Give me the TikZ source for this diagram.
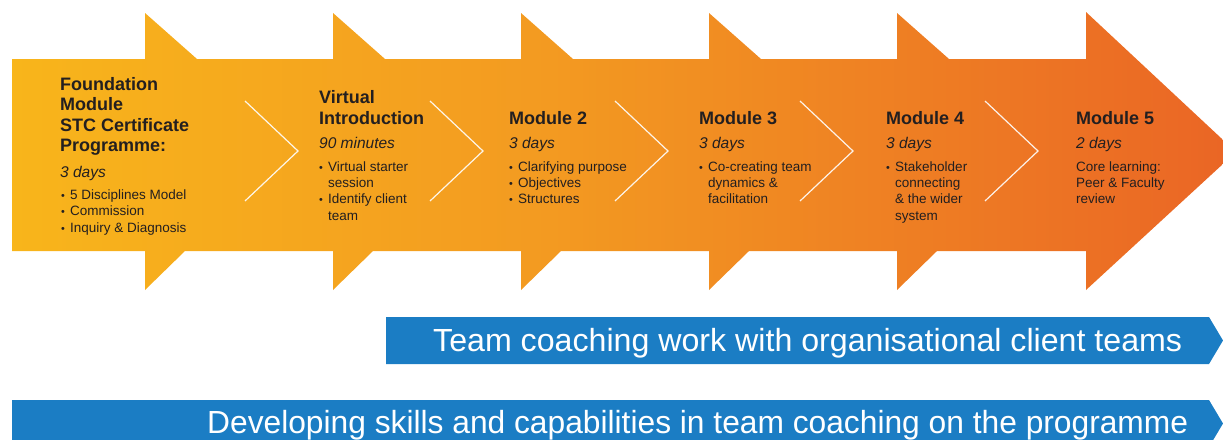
\documentclass[tikz,border=0pt]{standalone}
\usepackage{fontspec}
\setmainfont{Liberation Sans}
\usepackage{graphicx}
\definecolor{ink}{RGB}{35,31,32}
\definecolor{og1}{HTML}{F8B51B}
\definecolor{og2}{HTML}{F39A21}
\definecolor{og3}{HTML}{EA6525}
\definecolor{barblue}{RGB}{27,125,196}
\pgfdeclarehorizontalshading{bandshade}{100bp}{color(0bp)=(og1); color(25bp)=(og1); color(47bp)=(og2); color(75bp)=(og3); color(100bp)=(og3)}
\newcommand\bul{\makebox[9pt][l]{\scalebox{0.8}{\textbullet}}}
\newcommand\ind{\hspace*{9pt}}
\tikzset{
  txt/.style={inner sep=0pt, anchor=base west, text=ink},
  head/.style={txt, font=\fontsize{18}{18}\selectfont\bfseries},
  dur/.style={txt, font=\fontsize{15.5}{15.5}\selectfont\itshape},
  item/.style={txt, font=\fontsize{13.5}{13.5}\selectfont},
  chev/.style={draw=white, line width=1.2pt, opacity=.9, line join=miter},
  bartxt/.style={inner sep=0pt, anchor=base west, text=white, font=\fontsize{32}{32}\selectfont},
  bar/.style={fill=barblue}
}
\begin{document}
\begin{tikzpicture}[x=1pt,y=-1pt]
\useasboundingbox (0,0) rectangle (1223,439);
\clip (0,0) rectangle (1223,439);
% orange band with arrow heads
\shade[shading=bandshade] (12,59) -- (145,59) -- (145,13) -- (197,59) -- (333,59) -- (333,13) -- (385,59)
  -- (521,59) -- (521,13) -- (573,59) -- (709,59) -- (709,13) -- (761,59) -- (897,59) -- (897,13) -- (949,59)
  -- (1086,59) -- (1086,12) -- (1236,152) -- (1086,290) -- (1086,251) -- (937,251) -- (897,290) -- (897,251)
  -- (749,251) -- (709,290) -- (709,251) -- (561,251) -- (521,290) -- (521,251) -- (373,251) -- (333,290)
  -- (333,251) -- (185,251) -- (145,290) -- (145,251) -- (12,251) -- cycle;
% white chevrons
\foreach \k in {0,...,4}
  \draw[chev] ({245+185*\k},101) -- ({298+185*\k},151) -- ({245+185*\k},201);
% blue bars
\fill[bar] (386,317) -- (1209,317) -- (1223,340.5) -- (1209,364) -- (386,364) -- cycle;
\fill[bar] (12,400) -- (1209,400) -- (1223,423.5) -- (1209,447) -- (12,447) -- cycle;
\node[bartxt] (bar1t) at (433,351) {\resizebox{749pt}{\height}{Team coaching work with organisational client teams}};
\node[bartxt] (bar2t) at (207,433) {\resizebox{981pt}{\height}{Developing skills and capabilities in team coaching on the programme}};
% block 1
\foreach \t [count=\i] in {Foundation,Module,STC Certificate,Programme:}
  \node[head] (ha\i) at (60,{90+20.5*(\i-1)}) {\t};
\node[dur] (da) at (60,177) {3 days};
\foreach \t [count=\i] in {\bul 5 Disciplines Model,\bul Commission,\bul Inquiry \& Diagnosis}
  \node[item] (ia\i) at (61,{199+16.5*(\i-1)}) {\t};
% block 2
\foreach \t [count=\i] in {Virtual,Introduction}
  \node[head] (hb\i) at (319,{103+21*(\i-1)}) {\t};
\node[dur] (db) at (319,148) {90 minutes};
\foreach \t [count=\i] in {\bul Virtual starter,\ind session,\bul Identify client,\ind team}
  \node[item] (ib\i) at (319,{171+16.4*(\i-1)}) {\t};
% block 3
\node[head] (hc) at (509,124) {Module 2};
\node[dur] (dc) at (509,148) {3 days};
\foreach \t [count=\i] in {\bul Clarifying purpose,\bul Objectives,\bul Structures}
  \node[item] (ic\i) at (509,{171+16.4*(\i-1)}) {\t};
% block 4
\node[head] (hd) at (699,124) {Module 3};
\node[dur] (dd) at (699,148) {3 days};
\foreach \t [count=\i] in {\bul Co-creating team,\ind dynamics \&,\ind facilitation}
  \node[item] (id\i) at (699,{171+16.4*(\i-1)}) {\t};
% block 5
\node[head] (he) at (886,124) {Module 4};
\node[dur] (de) at (886,148) {3 days};
\foreach \t [count=\i] in {\bul Stakeholder,\ind connecting,\ind \& the wider,\ind system}
  \node[item] (ie\i) at (886,{171+16.4*(\i-1)}) {\t};
% block 6
\node[head] (hf) at (1076,124) {Module 5};
\node[dur] (df) at (1076,148) {2 days};
\foreach \t [count=\i] in {Core learning:,Peer \& Faculty,review}
  \node[item] (if\i) at (1076,{171+16.4*(\i-1)}) {\t};
\end{tikzpicture}
\end{document}
